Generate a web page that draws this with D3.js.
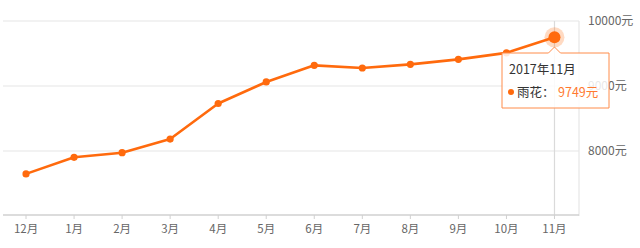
<!DOCTYPE html>
<html><head><meta charset="utf-8">
<script src="https://cdn.jsdelivr.net/npm/d3@7"></script>
<style>
html,body{margin:0;padding:0;background:#fff;}
svg{display:block;font-family:"Noto Sans CJK SC","Noto Sans",sans-serif;}
</style></head>
<body>
<svg id="c" width="640" height="248"></svg>
<script>
const categories = ["12月","1月","2月","3月","4月","5月","6月","7月","8月","9月","10月","11月"];
const prices = [7648, 7903, 7974, 8184, 8731, 9062, 9318, 9277, 9333, 9410, 9510, 9749];
const yTicks = [8000, 9000, 10000];
const seriesName = "雨花";
const tooltipTitle = "2017年11月";
const highlightIndex = 11;

(function () {
const svg = d3.select("#c");
const L = 2, R = 578.5, T = 21, B = 216;
const x = d3.scaleBand().domain(categories).range([L, R]);
const cx = d => x(d) + x.bandwidth() / 2;
const y = d3.scaleLinear().domain([7000, 10000]).range([B, T]);

// grid
svg.append("g").selectAll("line").data(yTicks).join("line")
  .attr("x1", L + 1).attr("x2", R + 0.5)
  .attr("y1", d => y(d)).attr("y2", d => y(d))
  .attr("stroke", "#e6e6e6").attr("stroke-width", 1.2);
// right border
svg.append("line").attr("x1", R + 0.5).attr("x2", R + 0.5)
  .attr("y1", T).attr("y2", B).attr("stroke", "#e6e6e6").attr("stroke-width", 1.2);

// crosshair
svg.append("line").attr("x1", cx(categories[highlightIndex])).attr("x2", cx(categories[highlightIndex]))
  .attr("y1", T).attr("y2", B - 1).attr("stroke", "#dadada").attr("stroke-width", 1.2);

// y labels
svg.append("g").selectAll("text").data(yTicks).join("text")
  .attr("x", 588).attr("y", d => y(d)).attr("dy", "0.35em")
  .attr("font-size", 12).attr("fill", "#666").text(d => d + "元");

// x axis
const xAxis = d3.axisBottom(x).tickSize(4).tickPadding(6);
const gx = svg.append("g").attr("transform", `translate(0,${B - 1})`).call(xAxis);
gx.select(".domain").attr("stroke", "#d0d0d0").attr("stroke-width", 1.6)
  .attr("d", `M${L + 1},0H${R + 0.5}`);
gx.selectAll(".tick line").attr("stroke", "#d0d0d0");
gx.selectAll(".tick text").attr("font-size", 11.5).attr("fill", "#666")
  .attr("font-family", '"Noto Sans CJK SC","Noto Sans",sans-serif');

// line
const line = d3.line().x((d, i) => cx(categories[i])).y(d => y(d));
svg.append("path").datum(prices).attr("d", line)
  .attr("fill", "none").attr("stroke", "#ff6a0d").attr("stroke-width", 2.6)
  .attr("stroke-linejoin", "round");

svg.append("g").selectAll("circle").data(prices).join("circle")
  .attr("cx", (d, i) => cx(categories[i])).attr("cy", d => y(d))
  .attr("r", (d, i) => i === highlightIndex ? 0 : 3.6).attr("fill", "#ff6a0d");

// highlight
const hx = cx(categories[highlightIndex]), hy = y(prices[highlightIndex]);
svg.append("circle").attr("cx", hx).attr("cy", hy).attr("r", 10).attr("fill", "#ff6a0d").attr("opacity", 0.25);
svg.append("circle").attr("cx", hx).attr("cy", hy).attr("r", 6).attr("fill", "#ff6a0d");

// tooltip
const tx = 502, ty = 53, tw = 107, th = 55;
const tip = svg.append("g");
tip.append("path")
  .attr("d", `M${tx},${ty}H${hx - 6}L${hx},${ty - 6}L${hx + 6},${ty}H${tx + tw}V${ty + th}H${tx}Z`)
  .attr("fill", "rgba(255,255,255,0.85)").attr("stroke", "#ff8c4a").attr("stroke-width", 1);
tip.append("text").attr("x", tx + 7).attr("y", ty + 21).attr("font-size", 12.5).attr("fill", "#333").text(tooltipTitle);
tip.append("circle").attr("cx", tx + 9).attr("cy", ty + 39).attr("r", 3).attr("fill", "#ff6a0d");
tip.append("text").attr("x", tx + 15).attr("y", ty + 43.5).attr("font-size", 12.5).attr("fill", "#333").text(seriesName + "：");
tip.append("text").attr("x", tx + 56).attr("y", ty + 43.5).attr("font-size", 12.5).attr("fill", "#ff7a30").text(prices[highlightIndex] + "元");
})();
</script>
</body></html>
